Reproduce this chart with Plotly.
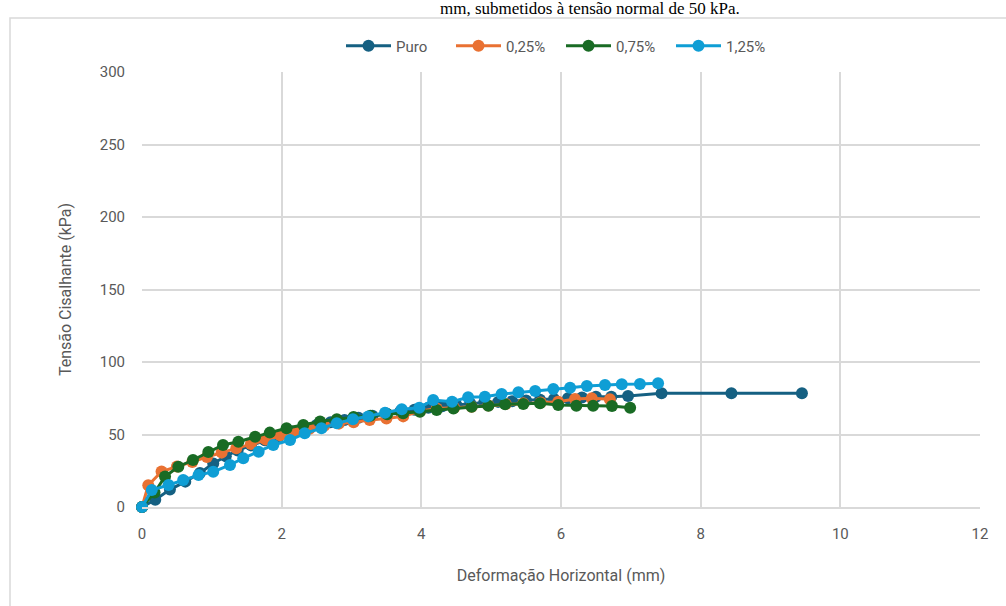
import plotly.graph_objects as go

# Horizontal displacement (mm) and shear stress (kPa) for each mixture
puro_x = [0, 0.19, 0.40, 0.62, 0.83, 1.02, 1.20, 1.37, 1.56, 1.76, 1.96, 2.15, 2.33, 2.50, 2.70, 2.90,
          3.10, 3.30, 3.50, 3.70, 3.90, 4.10, 4.30, 4.50, 4.70, 4.90, 5.10, 5.30, 5.50, 5.70, 5.90,
          6.10, 6.30, 6.50, 6.72, 6.96, 7.44, 8.44, 9.45]
puro_y = [0, 5, 12, 17.5, 23.5, 30, 35, 39, 42.5, 46, 49, 52, 54.5, 56.5, 58.5, 60,
          61.5, 63, 64.5, 66, 67, 68.5, 69.5, 70.5, 71.5, 72, 72.5, 73, 73.5, 74, 74.5,
          75, 75.5, 76, 76, 76.6, 78.4, 78.4, 78.4]

p025_x = [0, 0.09, 0.28, 0.50, 0.72, 0.93, 1.14, 1.35, 1.56, 1.77, 1.98, 2.19, 2.40, 2.61, 2.82,
          3.03, 3.26, 3.50, 3.74, 3.98, 4.22, 4.47, 4.72, 4.96, 5.21, 5.46, 5.71, 5.96, 6.20,
          6.44, 6.70]
p025_y = [0, 15, 24.5, 28, 31, 34.5, 37.5, 40.5, 43.5, 46.5, 49.5, 52, 54, 56, 57.5,
          58.5, 60, 61, 62.5, 66, 68, 68.5, 69.2, 70, 71, 71.5, 72, 72.6, 74.5,
          75, 74.3]

p075_x = [0, 0.18, 0.33, 0.52, 0.73, 0.95, 1.16, 1.38, 1.62, 1.83, 2.07, 2.31, 2.55, 2.79, 3.03,
          3.27, 3.51, 3.74, 3.98, 4.22, 4.46, 4.72, 4.96, 5.20, 5.46, 5.70, 5.96, 6.22, 6.46,
          6.73, 6.99]
p075_y = [0, 10, 21, 27.8, 32.4, 38, 42.8, 45, 48.5, 51.3, 54.3, 56.6, 58.9, 60.5, 62,
          63, 64, 64.6, 65.7, 66.9, 68, 69.2, 69.9, 70.8, 71, 71.5, 70.3, 69.9, 69.9,
          69.7, 68.5]

p125_x = [0, 0.14, 0.38, 0.59, 0.81, 1.02, 1.26, 1.45, 1.67, 1.88, 2.12, 2.33, 2.57, 2.79, 3.02,
          3.24, 3.48, 3.72, 3.97, 4.17, 4.44, 4.67, 4.91, 5.15, 5.39, 5.63, 5.89, 6.13, 6.37,
          6.63, 6.87, 7.13, 7.39]
p125_y = [0, 11.7, 15.2, 18.6, 22, 24.3, 29, 33.6, 38.1, 42.8, 46.2, 50.8, 54.3, 57.7, 60.5,
          62.5, 65, 67.4, 68.5, 73.8, 72.6, 75.7, 76.1, 77.9, 79.1, 80.0, 81.4, 82.3, 83.4,
          84.1, 84.6, 84.8, 85.3]

series = [
    ("Puro", puro_x, puro_y, "#156082"),
    ("0,25%", p025_x, p025_y, "#E97132"),
    ("0,75%", p075_x, p075_y, "#196B24"),
    ("1,25%", p125_x, p125_y, "#0F9ED5"),
]

x_ticks = [0, 2, 4, 6, 8, 10, 12]
y_ticks = [0, 50, 100, 150, 200, 250, 300]

FONT = "Roboto, Arial, sans-serif"
GREY = "#595959"
GRID = "#d9d9d9"

fig = go.Figure()
for name, xs, ys, color in series:
    fig.add_trace(go.Scatter(
        x=xs, y=ys, name=name, mode="lines+markers",
        line=dict(color=color, width=3),
        marker=dict(color=color, size=12, symbol="circle"),
        cliponaxis=False,
    ))

fig.update_layout(
    width=1006, height=606,
    margin=dict(l=142, r=26, t=72, b=99),
    paper_bgcolor="white", plot_bgcolor="white",
    font=dict(family=FONT, size=15, color=GREY),
    showlegend=True,
    legend=dict(orientation="h", x=0.5, xanchor="center", y=1.06, yanchor="middle",
                font=dict(family=FONT, size=15, color=GREY), itemwidth=45,
                entrywidth=50, entrywidthmode="pixels",
                traceorder="normal", bgcolor="rgba(0,0,0,0)"),
    xaxis=dict(range=[0, 12], tickvals=x_ticks, ticktext=[str(v) for v in x_ticks],
               showgrid=True, gridcolor=GRID, gridwidth=1.5, zeroline=False,
               showline=True, linecolor=GRID, linewidth=1.5, ticks="",
               ticklabelstandoff=12,
               title=dict(text="Deformação Horizontal (mm)", standoff=28,
                          font=dict(family=FONT, size=16, color=GREY))),
    yaxis=dict(range=[0, 300], tickvals=y_ticks, ticktext=[str(v) for v in y_ticks],
               showgrid=True, gridcolor=GRID, gridwidth=1.5, zeroline=False,
               showline=False, ticks="", ticklabelstandoff=16,
               title=dict(text="Tensão Cisalhante (kPa)", standoff=24,
                          font=dict(family=FONT, size=16, color=GREY))),
)

# chart frame around the plot
fig.add_shape(type="rect", xref="paper", yref="paper",
              x0=(10 - 142) / 838, x1=(1012 - 142) / 838,
              y0=(507 - 612) / 435, y1=(507 - 18) / 435,
              line=dict(color="#d9d9d9", width=1.5), fillcolor="rgba(0,0,0,0)", layer="below")

# caption line above the frame
fig.add_annotation(text="mm, submetidos à tensão normal de 50 kPa.",
                   xref="paper", yref="paper", x=(590 - 142) / 838, y=(507 - 8) / 435,
                   xanchor="center", yanchor="middle", showarrow=False,
                   font=dict(family="Liberation Serif, Times New Roman, serif", size=17, color="black"))

fig.write_html("out.html")
